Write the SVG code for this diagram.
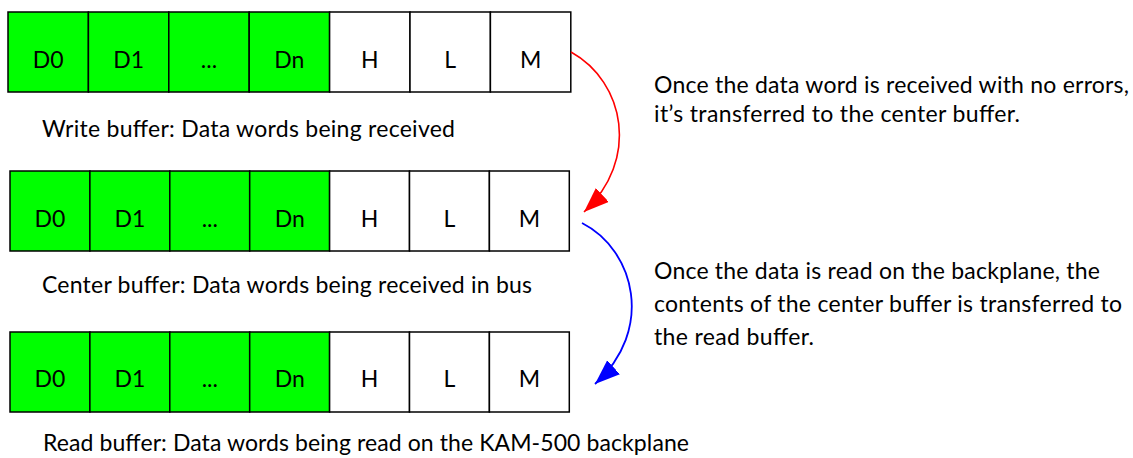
<svg xmlns="http://www.w3.org/2000/svg" width="1133" height="458" viewBox="0 0 1133 458">
<style>
  .g { fill: #00FF00; stroke: #000; stroke-width: 1.5; }
  .w { fill: #FFFFFF; stroke: #000; stroke-width: 1.5; }
  .ct { font-family: Lato, "Liberation Sans", sans-serif; font-size: 23px; fill: #000; text-anchor: middle; }
  .t { font-family: Lato, "Liberation Sans", sans-serif; font-size: 23px; fill: #000; }
  .red { fill: none; stroke: #FF0000; stroke-width: 1.6; }
  .blue { fill: none; stroke: #0000FF; stroke-width: 1.8; }
</style>
<defs>
  <marker id="ahRed" markerUnits="userSpaceOnUse" markerWidth="26" markerHeight="20" refX="25" refY="9.5" orient="auto">
    <path d="M0,0 L25,9.5 L0,19 z" fill="#FF0000"/>
  </marker>
  <marker id="ahBlue" markerUnits="userSpaceOnUse" markerWidth="26" markerHeight="20" refX="25" refY="9.5" orient="auto">
    <path d="M0,0 L25,9.5 L0,19 z" fill="#0000FF"/>
  </marker>
</defs>

<rect width="1133" height="458" fill="#FFFFFF"/>

<!-- Write buffer -->
<g id="write-buffer">
  <g id="w-d0"><rect class="g" x="8" y="12" width="80.4" height="80"/><text class="ct" x="48.2" y="68">D0</text></g>
  <g id="w-d1"><rect class="g" x="88.4" y="12" width="80.4" height="80"/><text class="ct" x="128.6" y="68">D1</text></g>
  <g id="w-dots"><rect class="g" x="168.8" y="12" width="80.4" height="80"/><text class="ct" x="209" y="68">...</text></g>
  <g id="w-dn"><rect class="g" x="249.2" y="12" width="80.4" height="80"/><text class="ct" x="289.4" y="68">Dn</text></g>
  <g id="w-h"><rect class="w" x="329.6" y="12" width="80.4" height="80"/><text class="ct" x="369.8" y="68">H</text></g>
  <g id="w-l"><rect class="w" x="410" y="12" width="80.4" height="80"/><text class="ct" x="450.2" y="68">L</text></g>
  <g id="w-m"><rect class="w" x="490.4" y="12" width="80.4" height="80"/><text class="ct" x="530.6" y="68">M</text></g>
</g>
<text id="write-caption" class="t" x="42" y="137" textLength="413">Write buffer: Data words being received</text>

<!-- Center buffer -->
<g id="center-buffer">
  <g id="c-d0"><rect class="g" x="10" y="171" width="79.9" height="80"/><text class="ct" x="50" y="227">D0</text></g>
  <g id="c-d1"><rect class="g" x="89.9" y="171" width="79.9" height="80"/><text class="ct" x="129.9" y="227">D1</text></g>
  <g id="c-dots"><rect class="g" x="169.8" y="171" width="79.9" height="80"/><text class="ct" x="209.8" y="227">...</text></g>
  <g id="c-dn"><rect class="g" x="249.7" y="171" width="79.9" height="80"/><text class="ct" x="289.7" y="227">Dn</text></g>
  <g id="c-h"><rect class="w" x="329.6" y="171" width="79.9" height="80"/><text class="ct" x="369.6" y="227">H</text></g>
  <g id="c-l"><rect class="w" x="409.5" y="171" width="79.9" height="80"/><text class="ct" x="449.5" y="227">L</text></g>
  <g id="c-m"><rect class="w" x="489.4" y="171" width="79.9" height="80"/><text class="ct" x="529.4" y="227">M</text></g>
</g>
<text id="center-caption" class="t" x="42" y="293" textLength="490">Center buffer: Data words being received in bus</text>

<!-- Read buffer -->
<g id="read-buffer">
  <g id="r-d0"><rect class="g" x="10" y="332" width="79.9" height="80"/><text class="ct" x="50" y="387">D0</text></g>
  <g id="r-d1"><rect class="g" x="89.9" y="332" width="79.9" height="80"/><text class="ct" x="129.9" y="387">D1</text></g>
  <g id="r-dots"><rect class="g" x="169.8" y="332" width="79.9" height="80"/><text class="ct" x="209.8" y="387">...</text></g>
  <g id="r-dn"><rect class="g" x="249.7" y="332" width="79.9" height="80"/><text class="ct" x="289.7" y="387">Dn</text></g>
  <g id="r-h"><rect class="w" x="329.6" y="332" width="79.9" height="80"/><text class="ct" x="369.6" y="387">H</text></g>
  <g id="r-l"><rect class="w" x="409.5" y="332" width="79.9" height="80"/><text class="ct" x="449.5" y="387">L</text></g>
  <g id="r-m"><rect class="w" x="489.4" y="332" width="79.9" height="80"/><text class="ct" x="529.4" y="387">M</text></g>
</g>
<text id="read-caption" class="t" x="43" y="451" textLength="646">Read buffer: Data words being read on the KAM-500 backplane</text>

<!-- Connectors -->
<g id="connectors">
  <path class="red" d="M571,52 C625,82 640,160 584,212" marker-end="url(#ahRed)"/>
  <path class="blue" d="M582,223 C635,250 655,330 595,384" marker-end="url(#ahBlue)"/>
</g>

<!-- Notes -->
<g id="note-1">
  <text class="t" x="654" y="93" textLength="475">Once the data word is received with no errors,</text>
  <text class="t" x="654" y="122" textLength="366">it’s transferred to the center buffer.</text>
</g>
<g id="note-2">
  <text class="t" x="654" y="279" textLength="446">Once the data is read on the backplane, the</text>
  <text class="t" x="654" y="312" textLength="468">contents of the center buffer is transferred to</text>
  <text class="t" x="654" y="345" textLength="160">the read buffer.</text>
</g>
</svg>
